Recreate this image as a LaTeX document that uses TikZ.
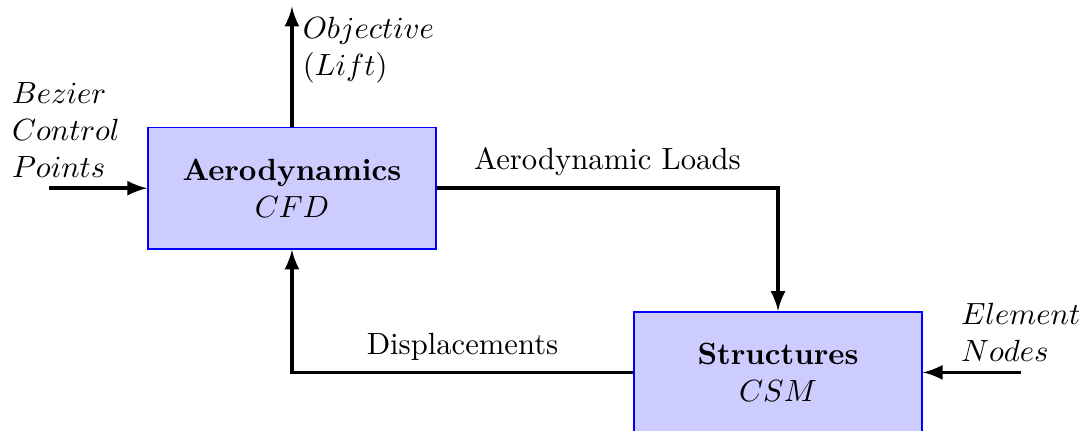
\documentclass[tikz,border=0pt]{standalone}
\usepackage{amsmath}
\usepackage{xcolor}
\usetikzlibrary{calc, positioning}
\usetikzlibrary{arrows.meta}

\begin{document}
\begin{tikzpicture}[
    block/.style={draw=blue, semithick, fill=blue!20, align=center,
                  minimum width=3.3cm, minimum height=1.39cm},
    flow/.style={very thick, -latex}
]
\useasboundingbox (0,0) rectangle (12.39,4.93);

\node[block] (aero) at (3.346,2.773) {\textbf{Aerodynamics}\\$CFD$};
\node[block, below right=0.7cm and 2.25cm of aero.south east, anchor=north west]
    (struct) {\textbf{Structures}\\$CSM$};

\coordinate[left=1.12cm of aero.west] (bzin);
\coordinate[above=1.375cm of aero.north] (objout);
\coordinate[right=1.12cm of struct.east] (elin);

\draw[flow] (bzin) -- (aero.west);
\draw[flow] (aero.north) -- (objout);
\draw[flow] (elin) -- (struct.east);
\draw[flow] (aero.east) -| node[pos=0.25, above] (loads) {Aerodynamic Loads} (struct.north);
\draw[flow] (struct.west) -| node[pos=0.25, above] (disp) {Displacements} (aero.south);

\node[above, align=left, xshift=0.19cm] (bzlabel) at (bzin) {$Bezier$\\$Control$\\$Points$};
\node[below right, align=left] (objlabel) at (objout) {$Objective$\\$(Lift)$};
\node[above, align=left] (ellabel) at (elin) {$Element$\\$Nodes$};
\end{tikzpicture}
\end{document}
